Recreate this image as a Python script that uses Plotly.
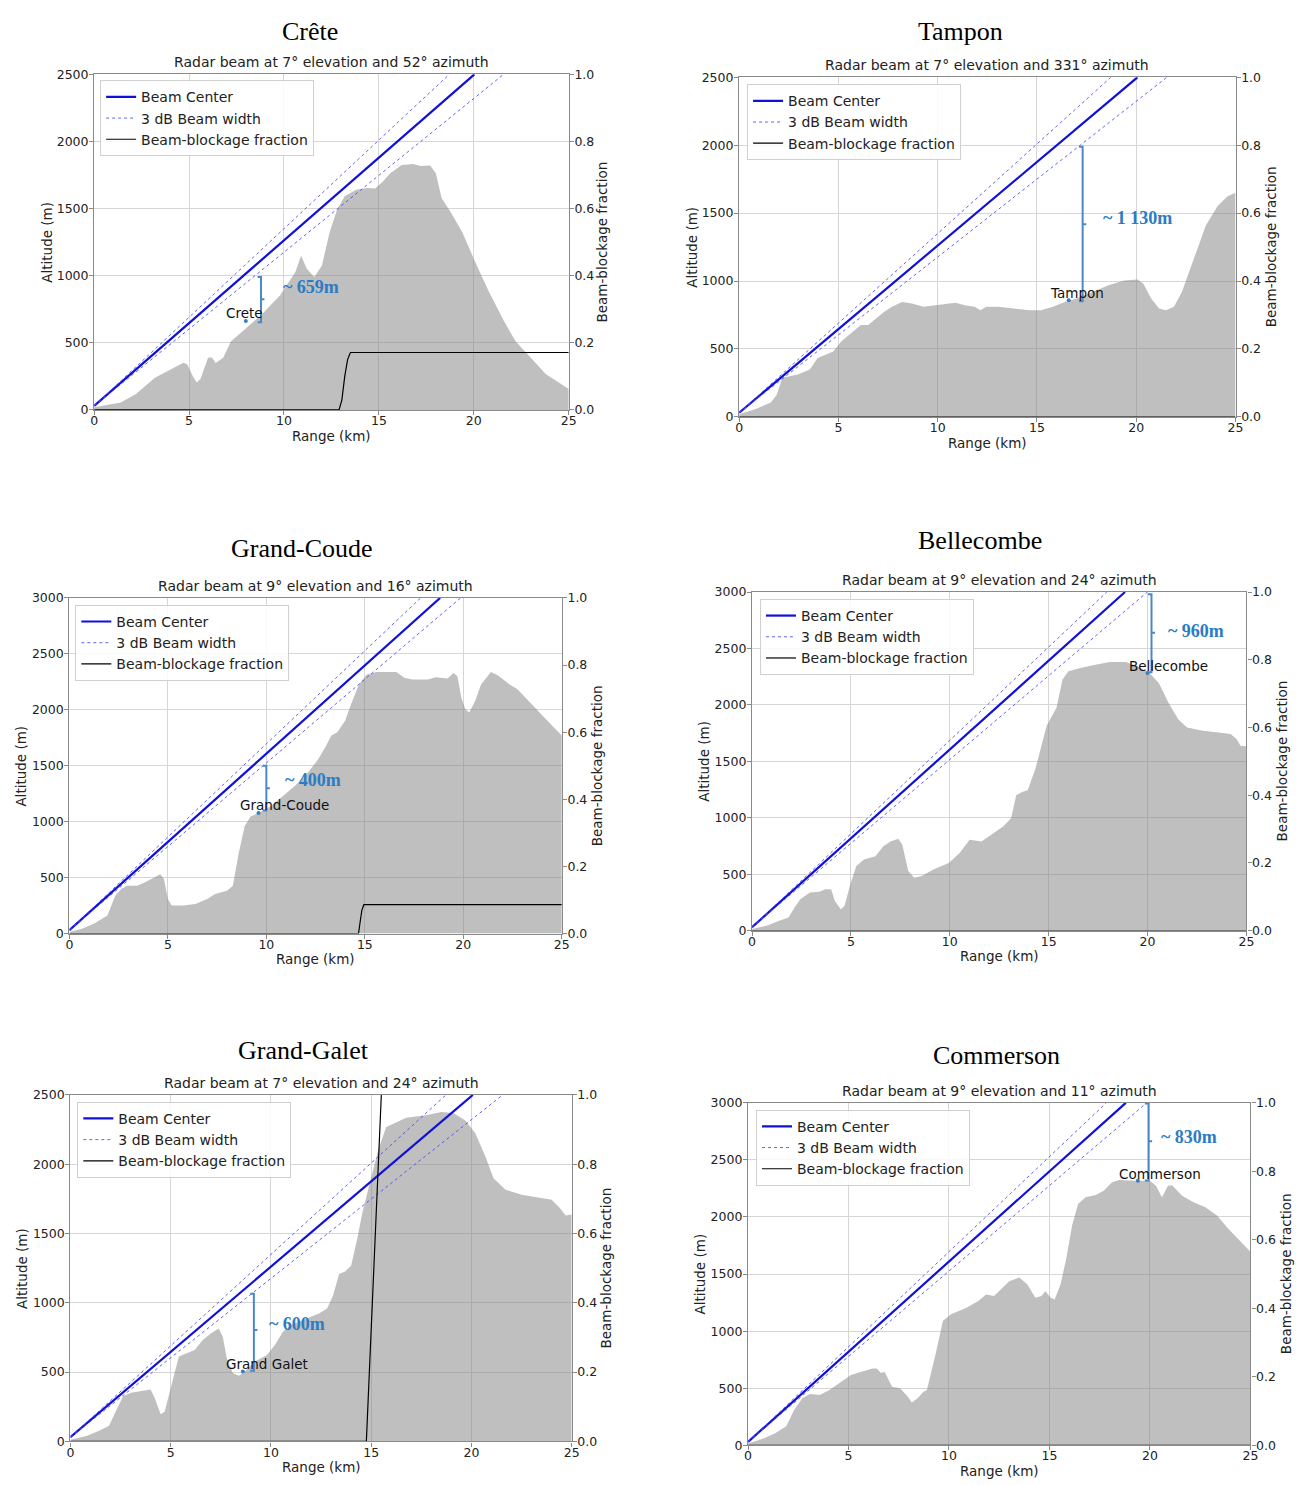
import plotly.graph_objects as go

W, H = 1299, 1485

# ---------------- data ----------------
panel_names = ["Crête", "Tampon", "Grand-Coude", "Bellecombe", "Grand-Galet", "Commerson"]
panel_subtitles = [
    "Radar beam at 7° elevation and 52° azimuth",
    "Radar beam at 7° elevation and 331° azimuth",
    "Radar beam at 9° elevation and 16° azimuth",
    "Radar beam at 9° elevation and 24° azimuth",
    "Radar beam at 7° elevation and 24° azimuth",
    "Radar beam at 9° elevation and 11° azimuth",
]
site_labels = ["Crete", "Tampon", "Grand-Coude", "Bellecombe", "Grand Galet", "Commerson"]
clearance_labels = ["~ 659m", "~ 1 130m", "~ 400m", "~ 960m", "~ 600m", "~ 830m"]
alt_max = [2500, 2500, 3000, 3000, 2500, 3000]
x_ticks = [0, 5, 10, 15, 20, 25]
frac_ticks = [0.0, 0.2, 0.4, 0.6, 0.8, 1.0]
frac_tick_labels = ["0.0", "0.2", "0.4", "0.6", "0.8", "1.0"]

# terrain profiles (range km, altitude m)
crete_km = [0, 1.4, 2.2, 3.2, 4.2, 4.7, 4.9, 5.2, 5.4, 5.6, 6.0, 6.2, 6.4, 6.8, 7.2, 8.0, 8.8, 9.8,
            10.6, 10.9, 11.2, 11.6, 12.0, 12.4, 12.8, 13.2, 13.8, 14.4, 14.8, 15.2, 15.6, 16.2, 16.8,
            17.2, 17.7, 18.0, 18.3, 18.8, 19.4, 20.0, 20.8, 21.6, 22.2, 23.0, 23.8, 24.6, 25]
crete_alt = [20, 56, 118, 240, 314, 351, 340, 250, 204, 230, 388, 390, 350, 388, 510, 610, 707, 855,
             1027, 1149, 1051, 990, 1076, 1321, 1493, 1591, 1640, 1653, 1650, 1700, 1763, 1825, 1832,
             1817, 1820, 1763, 1579, 1469, 1321, 1125, 879, 658, 511, 388, 265, 192, 155]

tampon_km = [0, 0.8, 1.6, 1.9, 2.17, 2.57, 2.96, 3.56, 3.95, 4.35, 4.74, 5.14, 5.53, 6.13, 6.5, 6.92,
             7.31, 7.7, 8.2, 8.7, 9.29, 9.88, 10.47, 10.9, 11.36, 11.86, 12.15, 12.45, 13.04, 13.83,
             14.62, 15.2, 15.8, 16.4, 17.0, 17.8, 18.6, 19.4, 20.06, 20.36, 20.75, 21.15, 21.5, 21.9,
             22.3, 22.9, 23.5, 24.1, 24.6, 25]
tampon_alt = [19, 56, 105, 165, 287, 299, 311, 348, 433, 457, 481, 554, 603, 676, 676, 725,
              773, 810, 846, 834, 810, 822, 834, 840, 822, 810, 785, 810, 810, 798,
              785, 785, 810, 846, 871, 919, 968, 1004, 1012, 980, 871, 798, 785, 810,
              919, 1163, 1406, 1552, 1625, 1649]

coude_km = [0, 0.64, 1.24, 1.93, 2.33, 2.63, 2.93, 3.43, 3.82, 4.42, 4.62, 4.8, 5.0, 5.2, 5.8, 6.4,
            7.0, 7.4, 8.0, 8.3, 8.6, 8.9, 9.2, 9.6, 10.2, 10.8, 11.4, 12.0, 12.6, 13.0, 13.3, 13.6,
            14.0, 14.3, 14.7, 15.1, 15.6, 16.6, 17.0, 17.4, 18.2, 18.6, 19.2, 19.5, 19.7, 19.9,
            20.1, 20.3, 20.6, 20.9, 21.4, 21.75, 22.35, 22.75, 23.3, 23.9, 24.5, 25]
coude_alt = [15, 44, 88, 162, 339, 398, 428, 428, 457, 516, 531, 487, 310, 251, 251, 265,
             310, 354, 383, 428, 723, 959, 1047, 1077, 1136, 1224, 1313, 1416, 1549, 1667, 1770, 1800,
             1903, 2050, 2227, 2316, 2339, 2339, 2286, 2272, 2272, 2292, 2280, 2330, 2300, 2109,
             2006, 1977, 2080, 2227, 2339, 2310, 2227, 2183, 2080, 1962, 1859, 1770]

belle_km = [0, 0.78, 1.37, 1.85, 2.15, 2.44, 2.93, 3.41, 3.7, 4.0, 4.19, 4.49, 4.68, 4.97, 5.27,
            5.65, 6.24, 6.63, 7.0, 7.4, 7.6, 7.9, 8.2, 8.58, 9.17, 9.95, 10.5, 11.0, 11.6, 12.1,
            12.7, 13.1, 13.36, 13.65, 13.94, 14.33, 14.6, 14.9, 15.4, 15.7, 16.0, 16.6, 17.36,
            18.1, 18.9, 19.5, 20.1, 20.57, 21.06, 21.55, 22.0, 22.8, 23.6, 24.2, 24.5, 24.7, 25]
belle_alt = [15, 44, 88, 117, 205, 278, 337, 345, 366, 366, 263, 190, 220, 410, 571,
             629, 659, 746, 790, 814, 761, 527, 468, 483, 541, 600, 688, 805, 790, 849,
             922, 995, 1200, 1229, 1244, 1434, 1610, 1815, 1976, 2225, 2298, 2327, 2356,
             2380, 2380, 2342, 2283, 2195, 2020, 1873, 1800, 1771, 1756, 1741, 1698, 1639, 1633]

galet_km = [0, 0.84, 1.43, 1.93, 2.23, 2.63, 3.02, 3.52, 4.0, 4.2, 4.5, 4.7, 5.0, 5.41, 5.8, 6.2,
            6.6, 7.0, 7.4, 7.6, 7.8, 8.1, 8.4, 8.7, 9.2, 9.8, 10.2, 10.6, 11.0, 11.6, 12.4, 12.8,
            13.1, 13.4, 13.7, 14.0, 14.3, 14.56, 14.96, 15.35, 15.75, 16.25, 16.75, 17.74, 18.5,
            19.1, 19.7, 20.2, 20.7, 21.1, 21.7, 22.5, 23.3, 24.0, 24.4, 24.7, 25]
galet_alt = [12, 40, 76, 112, 207, 326, 350, 362, 374, 315, 195, 214, 386, 612, 636, 660,
             731, 779, 815, 755, 600, 493, 474, 505, 577, 624, 696, 791, 839, 875, 922, 958,
             1053, 1208, 1225, 1268, 1458, 1649, 1887, 2102, 2269, 2304, 2335, 2354, 2376,
             2369, 2316, 2221, 2054, 1899, 1816, 1780, 1763, 1744, 1685, 1630, 1637]

comm_km = [0, 0.74, 1.33, 1.9, 2.3, 2.7, 3.08, 3.57, 4.05, 4.64, 5.12, 5.6, 6.2, 6.4, 6.6, 6.8,
           7.17, 7.56, 7.95, 8.15, 8.44, 8.73, 8.9, 9.3, 9.7, 10.1, 10.87, 11.46, 11.85, 12.24,
           12.6, 13.0, 13.5, 13.9, 14.3, 14.6, 14.8, 15.06, 15.26, 15.55, 15.84, 16.13, 16.43,
           16.8, 17.3, 17.7, 18.1, 18.47, 19.25, 20.0, 20.3, 20.6, 20.9, 21.1, 21.6, 22.17,
           22.76, 23.34, 23.9, 24.5, 25]
comm_alt = [17, 58, 104, 167, 312, 413, 450, 441, 485, 557, 615, 643, 672, 672, 635, 643,
            514, 499, 427, 375, 413, 470, 485, 773, 1091, 1148, 1206, 1264, 1321, 1307,
            1365, 1437, 1471, 1408, 1293, 1307, 1350, 1293, 1278, 1408, 1639, 1927, 2115,
            2172, 2193, 2230, 2302, 2325, 2317, 2317, 2273, 2172, 2273, 2279, 2187, 2129,
            2086, 2014, 1898, 1783, 1696]

terrain_km = [crete_km, tampon_km, coude_km, belle_km, galet_km, comm_km]
terrain_alt = [crete_alt, tampon_alt, coude_alt, belle_alt, galet_alt, comm_alt]

# beam lines: altitude at radar and range (km) where each line reaches the top of the plot
beam_start_alt = [30, 30, 30, 30, 30, 30]
beam_center_top_km = [20.03, 20.06, 18.82, 18.86, 20.07, 18.80]
beam_upper_top_km = [18.71, 18.72, 17.83, 17.94, 18.73, 17.83]
beam_lower_top_km = [21.57, 21.54, 19.86, 19.99, 21.56, 19.84]

# beam-blockage fraction
crete_bbf_km = [0, 12.9, 13.05, 13.2, 13.35, 13.5, 25]
crete_bbf = [0, 0, 0.03, 0.10, 0.15, 0.171, 0.171]
tampon_bbf_km = [0, 25]
tampon_bbf = [0, 0]
coude_bbf_km = [0, 14.68, 14.75, 14.85, 14.95, 25]
coude_bbf = [0, 0, 0.03, 0.07, 0.086, 0.086]
belle_bbf_km = [0, 25]
belle_bbf = [0, 0]
galet_bbf_km = [0, 14.76, 15.73, 25]
galet_bbf = [0, 0, 1.3, 1.3]
comm_bbf_km = [0, 25]
comm_bbf = [0, 0]
bbf_km = [crete_bbf_km, tampon_bbf_km, coude_bbf_km, belle_bbf_km, galet_bbf_km, comm_bbf_km]
bbf_val = [crete_bbf, tampon_bbf, coude_bbf, belle_bbf, galet_bbf, comm_bbf]

# site markers / clearance braces
site_km = [7.99, 16.6, 9.6, 20.0, 8.6, 19.4]
site_alt = [663, 858, 1077, 2283, 505, 2317]
site_label_km = [7.93, 17.0, 10.9, 21.06, 9.8, 20.5]
site_label_alt = [725, 914, 1150, 2342, 560, 2380]
brace_km = [8.79, 17.3, 10.0, 20.2, 9.15, 19.93]
brace_top = [990, 1989, 1500, 2980, 1065, 2995]
brace_bottom = [653, 851, 1100, 2290, 510, 2320]
brace_mid = [825, 1418, 1298, 2640, 803, 2663]
clear_label_km = [9.82, 18.25, 10.85, 20.92, 9.79, 20.44]
clear_label_alt = [916, 1466, 1372, 2655, 846, 2697]

# ---------------- layout geometry (pixels) ----------------
boxes = [  # (x0, x1, ytop, ybottom)
    (91, 570, 67, 406),
    (742, 1243, 70, 413),
    (66, 563, 596, 935),
    (755, 1254, 590, 932),
    (67, 573, 1098, 1448),
    (751, 1258, 1106, 1452),
]
title_pos = [(309, 24), (965, 24), (301, 546), (985, 538), (302, 1053), (1002, 1058)]
legend_pos = [(97, 73), (750, 77), (72, 603), (763, 597), (74, 1105), (759, 1113)]
xlabel_y = [432, 439, 961, 958, 1474, 1478]
ylabel_x = [44, 694, 17, 707, 18, 703]
y2label_x = [604, 1279, 598, 1290, 608, 1294]


def px(x):
    return x / W


def py(y):
    return 1 - y / H


fig = go.Figure()
layout = dict(
    width=W, height=H, autosize=False,
    margin=dict(l=0, r=0, t=0, b=0),
    paper_bgcolor="white", plot_bgcolor="white",
    font=dict(family="DejaVu Sans", size=13, color="#222"),
    showlegend=True,
)
annotations = []
shapes = []

AXC = "#8a8a8a"
GRID = "#d6d6d6"
BLUE = "#1010d8"
ANN_BLUE = "#2a7cc4"
BRACE = "#4a88c8"

for i in range(6):
    n = i + 1
    xs = "" if n == 1 else str(n)
    xname, yname, y2name = "xaxis" + xs, "yaxis" + xs, "yaxis" + str(n + 6)
    xref, yref, y2ref = "x" + xs, "y" + xs, "y" + str(n + 6)
    legname = "legend" + xs
    x0, x1, yt, yb = boxes[i]

    common = dict(showline=True, mirror=True, linecolor=AXC, linewidth=1.3,
                  ticks="outside", ticklen=4, tickcolor=AXC, tickwidth=1,
                  zeroline=False, tickfont=dict(size=12.5, color="#222"))
    layout[xname] = dict(domain=[px(x0), px(x1)], anchor=yref, range=[0, 25],
                         tickvals=x_ticks, showgrid=True, gridcolor=GRID, gridwidth=1,
                         ticklabelstandoff=-5, **common)
    layout[yname] = dict(domain=[py(yb), py(yt)], anchor=xref, range=[0, alt_max[i]],
                         dtick=500, tick0=0, showgrid=True, gridcolor=GRID, gridwidth=1,
                         ticklabelstandoff=-2, **common)
    layout[y2name] = dict(overlaying=yref, anchor=xref, side="right", range=[0, 1],
                          tickvals=frac_ticks, ticktext=frac_tick_labels, showgrid=False,
                          ticklabelstandoff=-2, **common)

    lx, ly = legend_pos[i]
    layout[legname] = dict(x=px(lx), y=py(ly), xanchor="left", yanchor="top",
                           bgcolor="rgba(255,255,255,0.85)", bordercolor="#d0d0d0", borderwidth=1,
                           font=dict(size=14, color="#222"), traceorder="normal",
                           tracegroupgap=0)

    # terrain
    fig.add_trace(go.Scatter(x=terrain_km[i], y=terrain_alt[i], mode="lines", fill="tozeroy",
                             fillcolor="rgba(128,128,128,0.5)", line=dict(width=0),
                             showlegend=False, hoverinfo="skip", xaxis=xref, yaxis=yref))
    top = alt_max[i]
    s0 = beam_start_alt[i]
    fig.add_trace(go.Scatter(x=[0, beam_center_top_km[i]], y=[s0, top], mode="lines",
                             line=dict(color=BLUE, width=2.2), name="Beam Center",
                             legend=legname, xaxis=xref, yaxis=yref))
    fig.add_trace(go.Scatter(x=[0, beam_upper_top_km[i]], y=[s0, top], mode="lines",
                             line=dict(color="rgba(70,70,245,0.85)", width=1, dash="dot"),
                             name="3 dB Beam width", legend=legname, xaxis=xref, yaxis=yref))
    fig.add_trace(go.Scatter(x=[0, beam_lower_top_km[i]], y=[s0, top], mode="lines",
                             line=dict(color="rgba(70,70,245,0.85)", width=1, dash="dot"),
                             showlegend=False, xaxis=xref, yaxis=yref))
    fig.add_trace(go.Scatter(x=bbf_km[i], y=bbf_val[i], mode="lines",
                             line=dict(color="black", width=1.2), name="Beam-blockage fraction",
                             legend=legname, xaxis=xref, yaxis=y2ref))
    # site marker
    fig.add_trace(go.Scatter(x=[site_km[i]], y=[site_alt[i]], mode="markers",
                             marker=dict(color="#3a7fc0", size=4), showlegend=False,
                             xaxis=xref, yaxis=yref))

    # brace
    bx, btp, bbt, bmd = brace_km[i], brace_top[i], brace_bottom[i], brace_mid[i]
    hook = 0.18
    path = (f"M {bx - hook},{btp} L {bx},{btp} L {bx},{bbt} L {bx - hook},{bbt} "
            f"M {bx},{bmd} L {bx + hook},{bmd}")
    shapes.append(dict(type="path", path=path, xref=xref, yref=yref,
                       line=dict(color=BRACE, width=2), layer="above"))

    annotations.append(dict(x=site_label_km[i], y=site_label_alt[i], xref=xref, yref=yref,
                            text=site_labels[i], showarrow=False, xanchor="center",
                            yanchor="middle", font=dict(size=13.5, color="#111")))
    annotations.append(dict(x=clear_label_km[i], y=clear_label_alt[i], xref=xref, yref=yref,
                            text="<b>" + clearance_labels[i] + "</b>", showarrow=False,
                            xanchor="left", yanchor="middle",
                            font=dict(family="Liberation Serif", size=18, color=ANN_BLUE)))

    # titles
    tx, ty = title_pos[i]
    annotations.append(dict(x=px(tx), y=py(ty), xref="paper", yref="paper", text=panel_names[i],
                            showarrow=False, xanchor="center", yanchor="middle",
                            font=dict(family="Liberation Serif", size=26, color="black")))
    annotations.append(dict(x=px((x0 + x1) / 2), y=py(yt - 2), xref="paper", yref="paper",
                            text=panel_subtitles[i], showarrow=False, xanchor="center",
                            yanchor="bottom", font=dict(size=14, color="#222")))
    annotations.append(dict(x=px((x0 + x1) / 2), y=py(xlabel_y[i]), xref="paper", yref="paper",
                            text="Range (km)", showarrow=False, xanchor="center",
                            yanchor="middle", font=dict(size=13.5, color="#222")))
    annotations.append(dict(x=px(ylabel_x[i]), y=py((yt + yb) / 2), xref="paper", yref="paper",
                            text="Altitude (m)", showarrow=False, textangle=-90,
                            xanchor="center", yanchor="middle", font=dict(size=13.5, color="#222")))
    annotations.append(dict(x=px(y2label_x[i]), y=py((yt + yb) / 2), xref="paper", yref="paper",
                            text="Beam-blockage fraction", showarrow=False, textangle=-90,
                            xanchor="center", yanchor="middle", font=dict(size=13.5, color="#222")))

layout["annotations"] = annotations
layout["shapes"] = shapes
fig.update_layout(**layout)
fig.write_html("out.html",
               post_script="document.body.style.margin='0';document.body.style.overflow='hidden';")
